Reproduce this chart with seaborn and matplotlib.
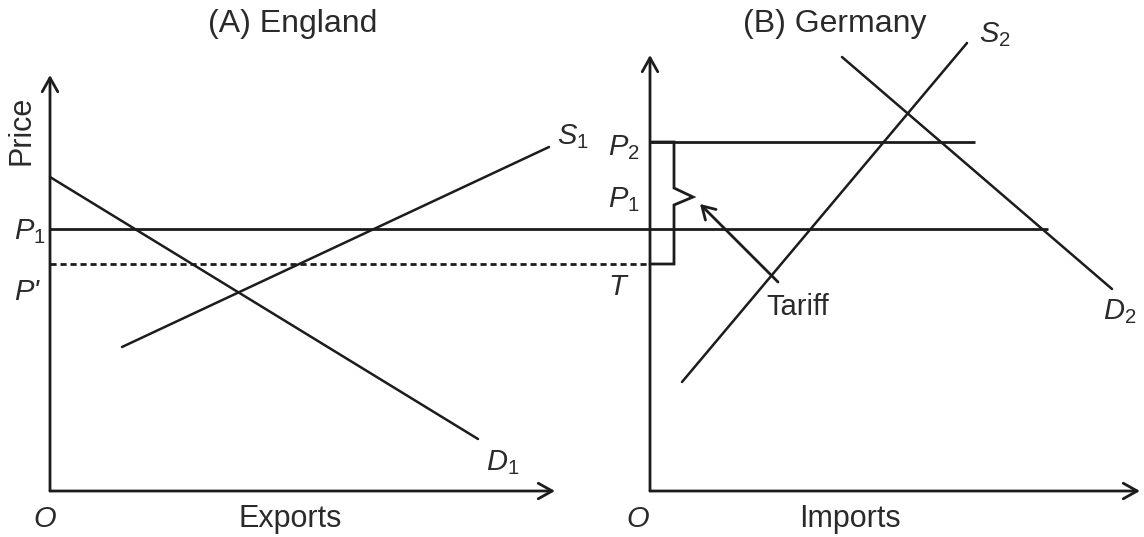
import numpy as np
import pandas as pd
import matplotlib
matplotlib.use("Agg")
import matplotlib.pyplot as plt
import seaborn as sns

# Diagram geometry in picture units (x to the right, y downwards)
origin_x = [50, 650]          # panel A, panel B
origin_y = 491
axis_top = [75, 55]
axis_right = [555, 1140]

# England: demand and supply
d1_x = [50, 478]
d1_y = [177, 439]
s1_x = [122, 549]
s1_y = [347, 147]

# Germany: demand and supply
d2_x = [842, 1112]
d2_y = [57, 289]
s2_x = [682, 967]
s2_y = [382, 43]

# price levels
p1_level = 229
p1_span = [50, 1048]
pprime_level = 264
pprime_span = [50, 650]
p2_level = 142
p2_span = [650, 975]

# tariff brace
brace_x = [650, 674, 674, 693, 674, 674, 652]
brace_y = [264, 264, 205, 197, 188, 142, 142]
tariff_tail = (778, 282)
tariff_head = (700, 204)

sns.set_theme(style="white")
plt.rcParams["font.family"] = ["Liberation Sans", "DejaVu Sans"]
plt.rcParams["mathtext.fontset"] = "custom"
plt.rcParams["mathtext.it"] = "Liberation Sans:italic"
plt.rcParams["mathtext.rm"] = "Liberation Sans"

ink = "#1c1c1c"
txt = "#2a2a2a"

fig = plt.figure(figsize=(11.44, 5.37), dpi=100)
ax = fig.add_axes([0, 0, 1, 1])
ax.set_xlim(0, 1144)
ax.set_ylim(537, 0)
ax.axis("off")

# axes with open arrow heads
arrow = dict(arrowstyle="->,head_length=0.5,head_width=0.28", lw=2, color=ink,
             mutation_scale=20, shrinkA=0, shrinkB=0)
for ox, top, right in zip(origin_x, axis_top, axis_right):
    ax.annotate("", xy=(ox, top), xytext=(ox, origin_y), arrowprops=arrow)
    ax.annotate("", xy=(right, origin_y), xytext=(ox, origin_y), arrowprops=arrow)

# demand / supply curves
curves = pd.DataFrame({
    "x": d1_x + s1_x + d2_x + s2_x,
    "y": d1_y + s1_y + d2_y + s2_y,
    "curve": ["D1"] * 2 + ["S1"] * 2 + ["D2"] * 2 + ["S2"] * 2,
})
sns.lineplot(data=curves, x="x", y="y", units="curve", estimator=None, sort=False,
             color=ink, lw=1.8, ax=ax, legend=False)

# price lines
ax.hlines(p1_level, *p1_span, color=ink, lw=2)
ax.hlines(p2_level, *p2_span, color=ink, lw=2)
ax.hlines(pprime_level, *pprime_span, color=ink, lw=2, linestyles=(0, (2.2, 1.4)))

# brace and tariff arrow
ax.plot(brace_x, brace_y, color=ink, lw=2, solid_joinstyle="miter")
ax.annotate("", xy=tariff_head, xytext=tariff_tail,
            arrowprops=dict(arrowstyle="->,head_length=0.5,head_width=0.3", lw=2,
                            color=ink, mutation_scale=18, shrinkA=0, shrinkB=0))

# text
ax.text(293, 24, "(A) England", fontsize=23, color=txt, ha="center", va="center")
ax.text(835, 24, "(B) Germany", fontsize=23, color=txt, ha="center", va="center")
ax.text(21, 130, "Price", fontsize=22, color=txt, ha="center", va="center", rotation=90)

ax.text(45, 519, "O", fontsize=21, color=txt, style="italic", ha="center", va="center")
ax.text(290, 519, "Exports", fontsize=22, color=txt, ha="center", va="center")
ax.text(638, 519, "O", fontsize=21, color=txt, style="italic", ha="center", va="center")
ax.text(850, 519, "Imports", fontsize=22, color=txt, ha="center", va="center")

ax.text(30, 232, "$P_1$", fontsize=21, color=txt, ha="center", va="center")
ax.text(27, 292, "P'", fontsize=21, color=txt, style="italic", ha="center", va="center")
ax.text(573, 137, "$S_1$", fontsize=21, color=txt, ha="center", va="center")
ax.text(503, 463, "$D_1$", fontsize=21, color=txt, ha="center", va="center")

ax.text(624, 148, "$P_2$", fontsize=21, color=txt, ha="center", va="center")
ax.text(624, 200, "$P_1$", fontsize=21, color=txt, ha="center", va="center")
ax.text(617, 287, "T", fontsize=21, color=txt, style="italic", ha="center", va="center")
ax.text(766, 307, "Tariff", fontsize=21, color=txt, ha="left", va="center")
ax.text(995, 35, "$S_2$", fontsize=21, color=txt, ha="center", va="center")
ax.text(1120, 312, "$D_2$", fontsize=21, color=txt, ha="center", va="center")

fig.savefig("out.png", dpi=100, facecolor="white")
